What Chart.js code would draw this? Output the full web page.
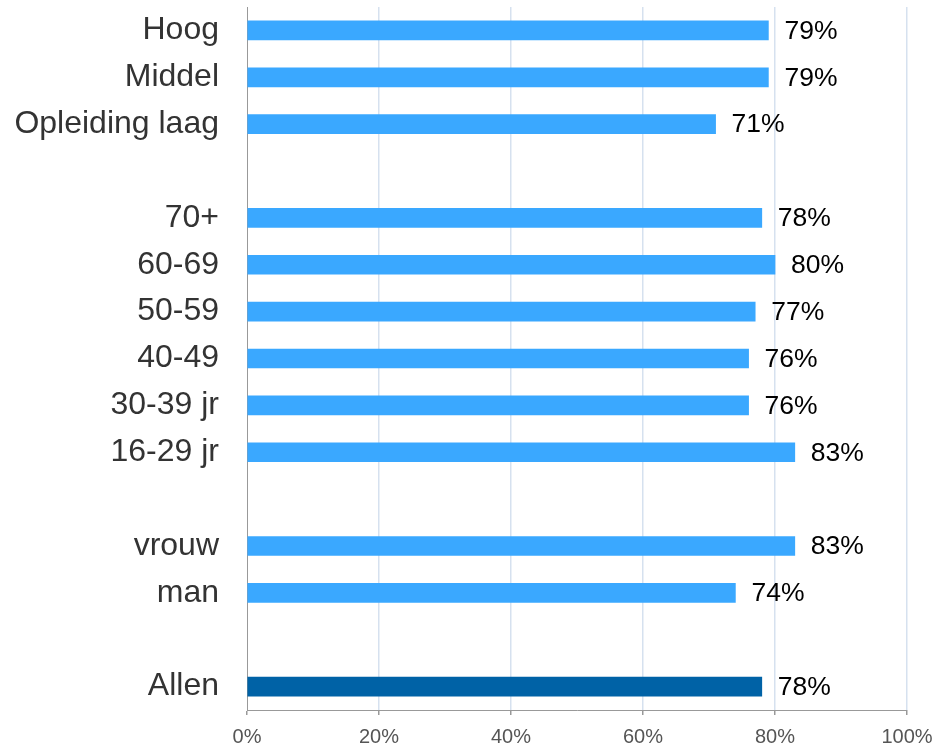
<!DOCTYPE html>
<html>
<head>
<meta charset="utf-8">
<script src="https://cdn.jsdelivr.net/npm/chart.js@4/dist/chart.umd.min.js"></script>
<style>
html,body{margin:0;padding:0;background:#fff;}
#wrap{width:938px;height:748px;}
</style>
</head>
<body>
<div id="wrap"><canvas id="c" width="938" height="748"></canvas></div>
<script>
const categories = ['Hoog','Middel','Opleiding laag','','70+','60-69','50-59','40-49','30-39 jr','16-29 jr','','vrouw','man','','Allen'];
const values = [79,79,71,null,78,80,77,76,76,83,null,83,74,null,78];
const xTicks = [0,20,40,60,80,100];
const highlight = 'Allen';

const LIGHT = '#3aa8ff';
const DARK = '#0062a6';
const FONT = "'Liberation Sans', Arial, sans-serif";

const valueLabels = {
  id: 'valueLabels',
  afterDatasetsDraw(chart) {
    const ctx = chart.ctx;
    const meta = chart.getDatasetMeta(0);
    ctx.save();
    ctx.font = '26.5px ' + FONT;
    ctx.fillStyle = '#000';
    ctx.textBaseline = 'middle';
    ctx.textAlign = 'left';
    meta.data.forEach((el, i) => {
      const v = chart.data.datasets[0].data[i];
      if (v === null || v === undefined) return;
      ctx.fillText(v + '%', el.x + 16, el.y + 1);
    });
    ctx.restore();
  }
};

new Chart(document.getElementById('c'), {
  type: 'bar',
  data: {
    labels: categories,
    datasets: [{
      data: values,
      backgroundColor: categories.map(c => c === highlight ? DARK : LIGHT),
      borderWidth: 0,
      barThickness: 19
    }]
  },
  options: {
    indexAxis: 'y',
    responsive: false,
    animation: false,
    devicePixelRatio: 1,
    layout: { padding: { top: 7, right: 31, left: 0, bottom: 0 } },
    plugins: { legend: { display: false }, tooltip: { enabled: false } },
    scales: {
      x: {
        min: 0, max: 100,
        afterBuildTicks(scale) { scale.ticks = xTicks.map(v => ({ value: v })); },
        afterFit(scale) { scale.height = 38; scale.paddingLeft = 0; scale.paddingRight = 0; },
        grid: {
          color: ctx => (ctx.tick && ctx.tick.value === 0) ? 'rgba(0,0,0,0)' : '#d6e1ef',
          tickColor: '#999',
          tickLength: 5,
          lineWidth: 1.5
        },
        border: { display: true, color: '#999', width: 1 },
        ticks: {
          callback: v => v + '%',
          color: '#555',
          font: { family: FONT, size: 20 },
          padding: 10,
          maxRotation: 0
        }
      },
      y: {
        afterFit(scale) { scale.width = 247; scale.paddingTop = 0; scale.paddingBottom = 0; },
        grid: { display: false, drawTicks: false },
        border: { display: true, color: '#999', width: 1 },
        ticks: {
          color: '#333',
          font: { family: FONT, size: 32 },
          padding: 28,
          autoSkip: false
        }
      }
    }
  },
  plugins: [valueLabels]
});
</script>
</body>
</html>
